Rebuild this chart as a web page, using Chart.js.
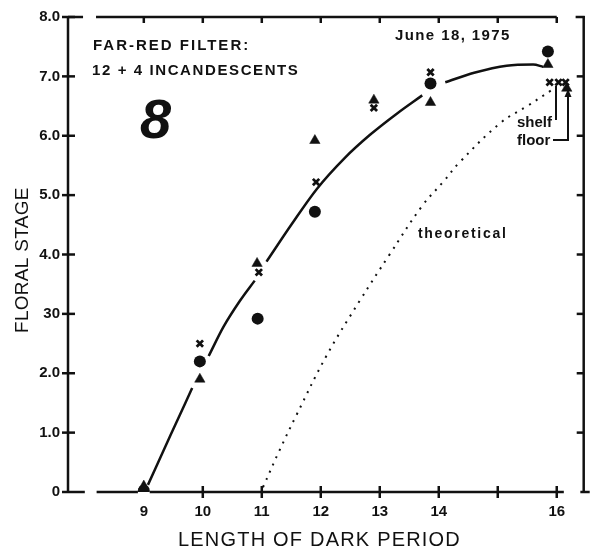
<!DOCTYPE html>
<html><head><meta charset="utf-8">
<script src="https://cdn.jsdelivr.net/npm/chart.js@4.4.0/dist/chart.umd.min.js"></script>
<style>html,body{margin:0;padding:0;background:#fff}canvas{display:block}</style>
</head><body>
<canvas id="c" width="591" height="548"></canvas>
<script>
// ---- tick labels ----
const xTickValues = [9, 10, 11, 12, 13, 14, 15, 16];
const xTickLabels = ["9", "10", "11", "12", "13", "14", "", "16"];
const yTickLabels = ["0", "1.0", "2.0", "30", "4.0", "5.0", "6.0", "7.0", "8.0"];

// ---- measured points (length of dark period, floral stage) ----
const circleX = [9, 9.95, 10.93, 11.9, 13.86, 15.85];
const circleY = [0.02, 2.2, 2.92, 4.72, 6.88, 7.42];
const crossX = [9, 9.95, 10.95, 11.92, 12.9, 13.86, 15.88, 16.03, 16.15];
const crossY = [0.02, 2.5, 3.7, 5.22, 6.47, 7.07, 6.9, 6.9, 6.9];
const triangleX = [9, 9.95, 10.92, 11.9, 12.9, 13.86, 15.85, 16.17];
const triangleY = [0.1, 1.9, 3.85, 5.92, 6.6, 6.56, 7.2, 6.8];

// ---- hand-drawn fitted curve (null = pen gap) ----
const curveX = [9.07, 9.45, 9.82, 9.96, 10.1, 10.35, 10.63, 10.88, 10.98, 11.08, 11.5, 11.93, 12.4, 12.84, 13.3, 13.72, 13.9, 14.11, 14.6, 15.15, 15.6, 15.77];
const curveY = [0.12, 0.95, 1.75, null, 2.29, 2.78, 3.22, 3.56, null, 3.88, 4.5, 5.1, 5.62, 6.02, 6.38, 6.68, null, 6.9, 7.06, 7.18, 7.2, 7.16];

// ---- theoretical (dotted) curve ----
const theoryX = [11.02, 11.3, 11.59, 12.1, 12.66, 13.16, 13.72, 14.09, 14.34, 15.05, 15.5, 15.9];
const theoryY = [0.08, 0.7, 1.3, 2.3, 3.22, 3.99, 4.82, 5.24, 5.54, 6.22, 6.5, 6.76];

const pts = (xs, ys) => xs.map((v, i) => ({ x: v, y: ys[i] }));
const INK = '#111';

const framePlugin = {
  id: 'framePlugin',
  beforeDatasetsDraw(chart) {
    const { ctx, chartArea: a, scales: { x, y } } = chart;
    const px = v => x.getPixelForValue(v), py = v => y.getPixelForValue(v);
    const L = a.left, R = a.right, T = a.top, B = a.bottom;
    ctx.save();
    ctx.strokeStyle = INK; ctx.lineWidth = 2.5; ctx.lineCap = 'butt';
    const seg = (x1, y1, x2, y2) => { ctx.beginPath(); ctx.moveTo(x1, y1); ctx.lineTo(x2, y2); ctx.stroke(); };
    seg(L, T - 1, L, B + 1);
    seg(L, B, px(8.0), B); seg(px(8.2), B, px(8.9), B); seg(px(9.1), B, px(16.12), B); seg(px(16.4), B, R + 6, B);
    seg(L, T, px(7.97), T); seg(px(8.19), T, px(16.0), T); seg(px(16.32), T, R + 1, T);
    seg(R, T - 1, R, B);
    for (let v = 0; v <= 8; v++) seg(L - 6, py(v), L + (v === 0 ? 0 : 7), py(v));
    for (let v = 1; v <= 7; v++) seg(R - 7, py(v), R, py(v));
    xTickValues.forEach(v => {
      if (v !== 9) seg(px(v), B - 6, px(v), B + 6);
      seg(px(v), T, px(v), T + 6);
    });
    ctx.restore();
  },
  afterDraw(chart) {
    const { ctx } = chart;
    ctx.save();
    ctx.fillStyle = INK; ctx.strokeStyle = INK;
    ctx.textAlign = 'left'; ctx.textBaseline = 'alphabetic';
    const txt = (s, x, y, font, ls) => { ctx.font = font; ctx.letterSpacing = ls + 'px'; ctx.fillText(s, x, y); };
    const B15 = 'bold 15px "Liberation Sans", Arial, sans-serif';
    txt('FAR-RED FILTER:', 93, 50, B15, 2);
    txt('12 + 4 INCANDESCENTS', 92, 75, B15, 1.6);
    txt('June 18, 1975', 395, 40, B15, 1.4);
    txt('theoretical', 418, 238, 'bold 14px "Liberation Sans", Arial, sans-serif', 1.7);
    txt('shelf', 517, 127, B15, 0);
    txt('floor', 517, 145, B15, 0);
    txt('8', 140, 138, 'italic bold 56px "Liberation Sans", Arial, sans-serif', 0);
    // axis titles
    txt('LENGTH OF DARK PERIOD', 178, 546, '20px "Liberation Sans", Arial, sans-serif', 1.2);
    ctx.save();
    ctx.translate(28, 333); ctx.rotate(-Math.PI / 2);
    txt('FLORAL STAGE', 0, 0, '19px "Liberation Sans", Arial, sans-serif', 0.3);
    ctx.restore();
    // arrows
    ctx.letterSpacing = '0px';
    ctx.lineWidth = 2;
    ctx.beginPath(); ctx.moveTo(556, 120); ctx.lineTo(556, 86); ctx.stroke();
    ctx.beginPath(); ctx.moveTo(553, 140); ctx.lineTo(568, 140); ctx.lineTo(568, 95); ctx.stroke();
    ctx.beginPath(); ctx.moveTo(568, 89); ctx.lineTo(564.5, 97); ctx.lineTo(571.5, 97); ctx.closePath(); ctx.fill();
    ctx.restore();
  }
};

new Chart(document.getElementById('c'), {
  type: 'scatter',
  data: {
    datasets: [
      { label: 'fit', data: pts(curveX, curveY), showLine: true, spanGaps: false, borderColor: INK, borderWidth: 2.5, pointRadius: 0, cubicInterpolationMode: 'monotone', fill: false, order: 5 },
      { label: 'theoretical', data: pts(theoryX, theoryY), showLine: true, borderColor: INK, borderWidth: 2, borderDash: [2, 6], pointRadius: 0, tension: 0.4, fill: false, order: 5 },
      { label: 'circle', data: pts(circleX, circleY), pointStyle: 'circle', pointRadius: 6, backgroundColor: INK, borderColor: INK, borderWidth: 0, order: 1 },
      { label: 'triangle', data: pts(triangleX, triangleY), pointStyle: 'triangle', pointRadius: 6, backgroundColor: INK, borderColor: INK, borderWidth: 0.5, order: 1 },
      { label: 'cross', data: pts(crossX, crossY), pointStyle: 'crossRot', pointRadius: 4.5, backgroundColor: INK, borderColor: INK, borderWidth: 2.8, order: 1 }
    ]
  },
  options: {
    responsive: false,
    animation: false,
    events: [],
    layout: { padding: { left: 0, right: 6, top: 13, bottom: 0 } },
    plugins: { legend: { display: false }, tooltip: { enabled: false } },
    scales: {
      x: {
        type: 'linear', min: 7.715, max: 16.457,
        afterBuildTicks: s => { s.ticks = xTickValues.map(v => ({ value: v })); },
        afterFit: s => { s.height = 56; },
        grid: { display: false, drawTicks: false },
        border: { display: false },
        ticks: {
          autoSkip: false, maxRotation: 0, padding: 11, color: INK,
          font: { family: '"Liberation Sans", Arial, sans-serif', size: 15, weight: 'bold' },
          callback: v => xTickLabels[xTickValues.indexOf(v)] ?? ''
        }
      },
      y: {
        type: 'linear', min: 0, max: 8,
        afterFit: s => { s.width = 68; },
        grid: { display: false, drawTicks: false },
        border: { display: false },
        ticks: {
          stepSize: 1, padding: 8, color: INK,
          font: { family: '"Liberation Sans", Arial, sans-serif', size: 15, weight: 'bold' },
          callback: v => yTickLabels[v] ?? ''
        }
      }
    }
  },
  plugins: [framePlugin]
});
</script>
</body></html>
